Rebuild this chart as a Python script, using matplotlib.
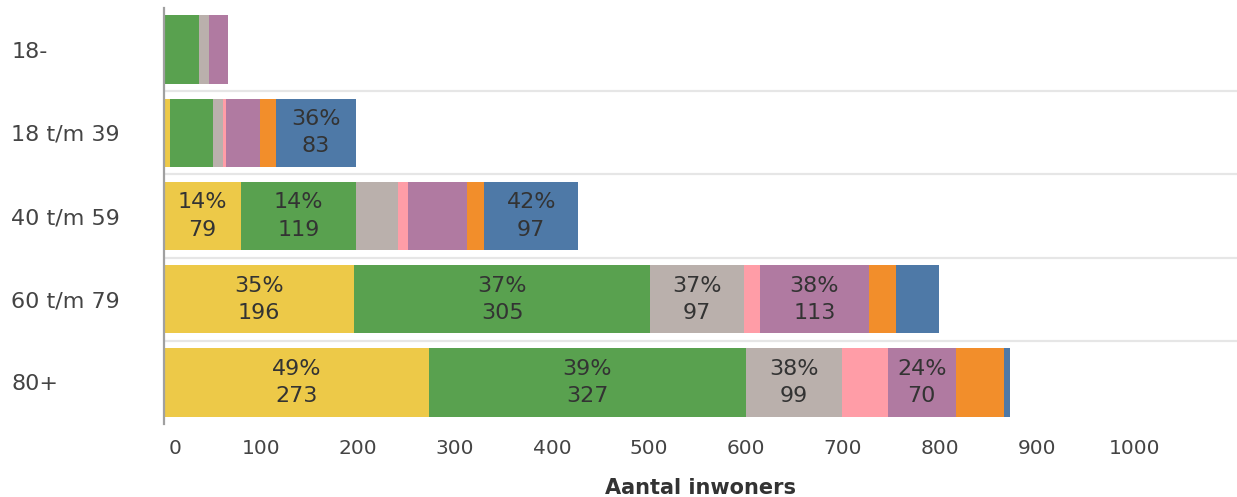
import matplotlib
matplotlib.use('Agg')
import matplotlib.pyplot as plt
import matplotlib.transforms as mtransforms

plt.rcParams['font.family'] = ['DejaVu Sans']

# Leeftijdsgroepen (van boven naar beneden)
groepen = ['18-', '18 t/m 39', '40 t/m 59', '60 t/m 79', '80+']

# Aantallen per segment, in volgorde van stapeling
geel = [0, 6, 79, 196, 273]
groen = [36, 45, 119, 305, 327]
grijs = [10, 10, 43, 97, 99]
roze = [0, 3, 10, 16, 47]
paars = [20, 35, 61, 113, 70]
oranje = [0, 16, 18, 28, 50]
blauw = [0, 83, 97, 44, 6]

# Percentages die in de balk getoond worden (None = geen label)
pct_geel = [None, None, 14, 35, 49]
pct_groen = [None, None, 14, 37, 39]
pct_grijs = [None, None, None, 37, 38]
pct_roze = [None, None, None, None, None]
pct_paars = [None, None, None, 38, 24]
pct_oranje = [None, None, None, None, None]
pct_blauw = [None, 36, 42, None, None]

x_ticks = [0, 100, 200, 300, 400, 500, 600, 700, 800, 900, 1000]

series = [geel, groen, grijs, roze, paars, oranje, blauw]
percentages = [pct_geel, pct_groen, pct_grijs, pct_roze, pct_paars, pct_oranje, pct_blauw]
kleuren = ['#EDC948', '#59A14F', '#BAB0AC', '#FF9DA7', '#B07AA1', '#F28E2B', '#4E79A7']

fig = plt.figure(figsize=(12.37, 4.97), dpi=100)
ax = fig.add_axes([164 / 1237, 1 - 424 / 497, 1 - 164 / 1237, 416 / 497])

y = list(range(len(groepen)))
links = [0] * len(groepen)
for waarden, pcts, kleur in zip(series, percentages, kleuren):
    ax.barh(y, waarden, left=links, height=0.82, color=kleur, edgecolor='none', zorder=2)
    for i, (w, p) in enumerate(zip(waarden, pcts)):
        if p is not None:
            ax.text(links[i] + w / 2, i, f'{p}%\n{w}', ha='center', va='center',
                    fontsize=16, color='#333333', linespacing=1.45, zorder=3)
    links = [l + w for l, w in zip(links, waarden)]

# scheidingslijnen tussen de rijen
for s in [0.5, 1.5, 2.5, 3.5]:
    ax.axhline(s, color='#e6e6e6', linewidth=1.6, zorder=1)

ax.set_xlim(0, 1106)
ax.set_ylim(len(groepen) - 0.5, -0.5)

ax.set_yticks(y)
ax.set_yticklabels(groepen, fontsize=16, color='#444444', ha='left')
ax.tick_params(axis='y', length=0, pad=110)

ax.set_xticks(x_ticks)
ax.set_xticklabels([str(t) for t in x_ticks], fontsize=14.5, color='#444444')
ax.tick_params(axis='x', length=0, pad=11)
# de "0" staat in het origineel iets rechts van de as
nul = ax.xaxis.get_major_ticks()[0].label1
nul.set_transform(nul.get_transform() + mtransforms.ScaledTranslation(0.11, 0, fig.dpi_scale_trans))

ax.set_xlabel('Aantal inwoners', fontsize=15, fontweight='bold', color='#333333', labelpad=14)

for kant in ['top', 'right', 'bottom']:
    ax.spines[kant].set_visible(False)
ax.spines['left'].set_color('#a0a0a0')
ax.spines['left'].set_linewidth(1.6)
ax.spines['left'].set_zorder(4)

fig.savefig('out.png', dpi=100)
